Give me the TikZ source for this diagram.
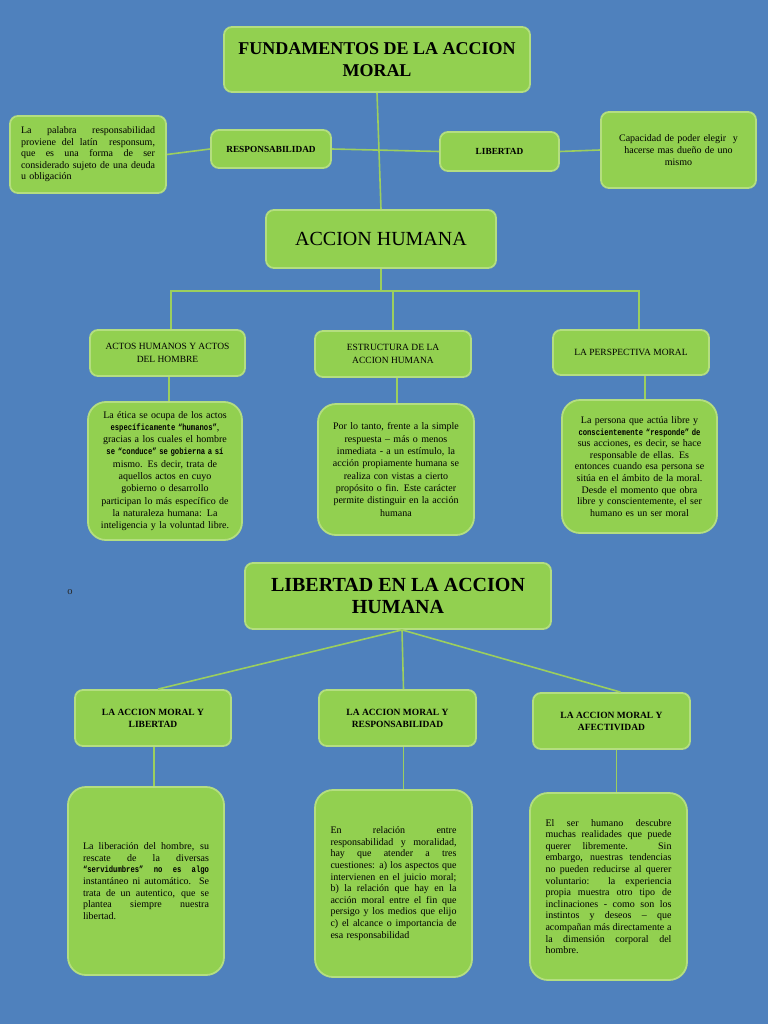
\documentclass[tikz,border=0pt]{standalone}
\usepackage{fontspec}
\usepackage{graphicx}
\setmainfont{Liberation Serif}
\newfontfamily\monof{Liberation Mono}
\definecolor{bgblue}{HTML}{4F81BD}
\definecolor{boxgreen}{HTML}{92D050}
\definecolor{rimgreen}{HTML}{B4DE80}
\definecolor{linegreen}{HTML}{9CCF5E}
\newcommand\mn[1]{\scalebox{0.8}[1]{\monof\bfseries\fontsize{9}{10}\selectfont #1}}
\newlength\jw
\newcommand\jl[1]{\makebox[\jw][s]{\spaceskip=0pt\xspaceskip=0pt\relax #1}\\}
\begin{document}
\begin{tikzpicture}[x=1pt,y=-1pt,
 box/.style={draw=rimgreen, fill=boxgreen, line width=1.8pt, rounded corners=8pt, align=center, inner sep=0pt, text=black},
 bigbox/.style={box, rounded corners=18pt},
 conn/.style={draw=linegreen, line width=1.6pt},
 small/.style={font=\fontsize{10}{11.5}\selectfont},
 body/.style={font=\fontsize{10}{12.3}\selectfont},
 body2/.style={font=\fontsize{10}{11.6}\selectfont}]
\fill[bgblue] (0,0) rectangle (768,1024);
\useasboundingbox (0,0) rectangle (768,1024);

% ---------- top section ----------
\node[box,minimum width=306pt,minimum height=65pt,font=\bfseries\fontsize{18}{22}\selectfont] (title) at (377,59.5) {FUNDAMENTOS DE LA ACCION\\MORAL};
\node[box,minimum width=120pt,minimum height=38pt,font=\bfseries\fontsize{9.3}{11}\selectfont] (resp) at (271,149) {RESPONSABILIDAD};
\node[box,minimum width=119pt,minimum height=39pt,font=\bfseries\fontsize{9.3}{11}\selectfont] (lib) at (499.5,151.5) {LIBERTAD};
\setlength\jw{134pt}
\node[box,small,minimum width=156pt,minimum height=77pt,text width=134pt,align=left] (ltxt) at (88,154.5) {\jl{La palabra responsabilidad}\jl{proviene del latín \ responsum,}\jl{que es una forma de ser}\jl{considerado sujeto de una deuda}u obligación};
\node[box,small,minimum width=155pt,minimum height=76pt,text width=140pt,font=\fontsize{10}{11.8}\selectfont] (rtxt) at (678.5,150) {Capacidad de poder elegir \ y\\hacerse mas dueño de uno\\mismo};
\node[box,minimum width=230pt,minimum height=58pt,font=\fontsize{20}{24}\selectfont] (ah) at (381,239) {ACCION HUMANA};

\draw[conn] (title.south) -- (ah.north);
\draw[conn] (ltxt.east) -- (resp.west);
\draw[conn] (resp.east) -- (lib.west);
\draw[conn] (lib.east) -- (rtxt.west);

% ---------- level 2 ----------
\node[box,minimum width=155pt,minimum height=46pt,font=\fontsize{9.5}{12.5}\selectfont] (a1) at (167.5,353) {ACTOS HUMANOS Y ACTOS\\DEL HOMBRE};
\node[box,minimum width=156pt,minimum height=46pt,font=\fontsize{9.5}{12.5}\selectfont] (a2) at (393,354) {ESTRUCTURA DE LA\\ACCION HUMANA};
\node[box,minimum width=156pt,minimum height=45pt,font=\fontsize{9.5}{12.5}\selectfont] (a3) at (631,352.5) {LA PERSPECTIVA MORAL};

\coordinate (barL) at (171,291);
\coordinate (barR) at (639,291);
\draw[conn] (ah.south) -- (ah.south |- barL);
\draw[conn] (barL |- a1.north) -- (barL) -- (barR) -- (barR |- a3.north);
\draw[conn] (a2.north) -- (a2.north |- barL);

% ---------- level 3 ----------
\node[bigbox,body,minimum width=154pt,minimum height=138pt,text width=150pt] (t1) at (165,471) {La ética se ocupa de los actos\\\mn{específicamente “humanos”},\\gracias a los cuales el hombre\\\mn{se “conduce” se gobierna a sí}\\mismo. Es decir, trata de\\aquellos actos en cuyo\\gobierno o desarrollo\\participan lo más específico de\\la naturaleza humana: La\\inteligencia y la voluntad libre.};
\node[bigbox,body,minimum width=156pt,minimum height=131pt,text width=150pt] (t2) at (396,469.5) {Por lo tanto, frente a la simple\\respuesta – más o menos\\inmediata - a un estímulo, la\\acción propiamente humana se\\realiza con vistas a cierto\\propósito o fin. Este carácter\\permite distinguir en la acción\\humana};
\node[bigbox,body,font=\fontsize{10}{11.6}\selectfont,minimum width=155pt,minimum height=133pt,text width=150pt] (t3) at (639.5,466.5) {La persona que actúa libre y\\\mn{conscientemente “responde” de}\\sus acciones, es decir, se hace\\responsable de ellas. Es\\entonces cuando esa persona se\\sitúa en el ámbito de la moral.\\Desde el momento que obra\\libre y conscientemente, el ser\\humano es un ser moral};

\draw[conn] ([xshift=1.5pt]a1.south) -- ([xshift=1.5pt]a1.south |- t1.north);
\draw[conn] ([xshift=4pt]a2.south) -- ([xshift=4pt]a2.south |- t2.north);
\draw[conn] ([xshift=14pt]a3.south) -- ([xshift=14pt]a3.south |- t3.north);

% ---------- second section ----------
\node[font=\fontsize{10.5}{12}\selectfont,text=black!85] (o) at (70,592) {o};
\node[box,minimum width=306pt,minimum height=66pt,font=\bfseries\fontsize{20}{22}\selectfont] (lib2) at (398,596) {LIBERTAD EN LA ACCION\\HUMANA};

\node[box,minimum width=156pt,minimum height=56pt,font=\bfseries\fontsize{9.5}{12}\selectfont] (c1) at (153,718) {LA ACCION MORAL Y\\LIBERTAD};
\node[box,minimum width=157pt,minimum height=56pt,font=\bfseries\fontsize{9.5}{12}\selectfont] (c2) at (397.5,718) {LA ACCION MORAL Y\\RESPONSABILIDAD};
\node[box,minimum width=157pt,minimum height=56pt,font=\bfseries\fontsize{9.5}{12}\selectfont] (c3) at (611.5,721) {LA ACCION MORAL Y\\AFECTIVIDAD};

\draw[conn] ([xshift=4pt]lib2.south) -- ([xshift=5pt]c1.north);
\draw[conn] ([xshift=4pt]lib2.south) -- ([xshift=6pt]c2.north);
\draw[conn] ([xshift=4pt]lib2.south) -- ([xshift=9pt]c3.north);

\setlength\jw{126pt}
\node[bigbox,body2,minimum width=156pt,minimum height=188pt,text width=126pt,align=left] (d1) at (146,881) {\jl{La liberación del hombre, su}\jl{rescate de la diversas}\jl{\mn{“servidumbres”}\hfill\mn{no}\hfill\mn{es}\hfill\mn{algo}}\jl{instantáneo ni automático. Se}\jl{trata de un autentico, que se}\jl{plantea siempre nuestra}libertad.};
\node[bigbox,body2,minimum width=157pt,minimum height=187pt,text width=126pt,align=left] (d2) at (393.5,883.5) {\jl{En relación entre}\jl{responsabilidad y moralidad,}\jl{hay que atender a tres}\jl{cuestiones: a) los aspectos que}\jl{intervienen en el juicio moral;}\jl{b) la relación que hay en la}\jl{acción moral entre el fin que}\jl{persigo y los medios que elijo}\jl{c) el alcance o importancia de}esa responsabilidad};
\node[bigbox,body2,minimum width=157pt,minimum height=187pt,text width=126pt,align=left] (d3) at (608.5,886.5) {\jl{El ser humano descubre}\jl{muchas realidades que puede}\jl{querer libremente. Sin}\jl{embargo, nuestras tendencias}\jl{no pueden reducirse al querer}\jl{voluntario: la experiencia}\jl{propia muestra otro tipo de}\jl{inclinaciones - como son los}\jl{instintos y deseos – que}\jl{acompañan más directamente a}\jl{la dimensión corporal del}hombre.};

\draw[conn] ([xshift=1pt]c1.south) -- ([xshift=1pt]c1.south |- d1.north);
\draw[conn] ([xshift=6pt]c2.south) -- ([xshift=6pt]c2.south |- d2.north);
\draw[conn] ([xshift=5pt]c3.south) -- ([xshift=5pt]c3.south |- d3.north);
\end{tikzpicture}
\end{document}
